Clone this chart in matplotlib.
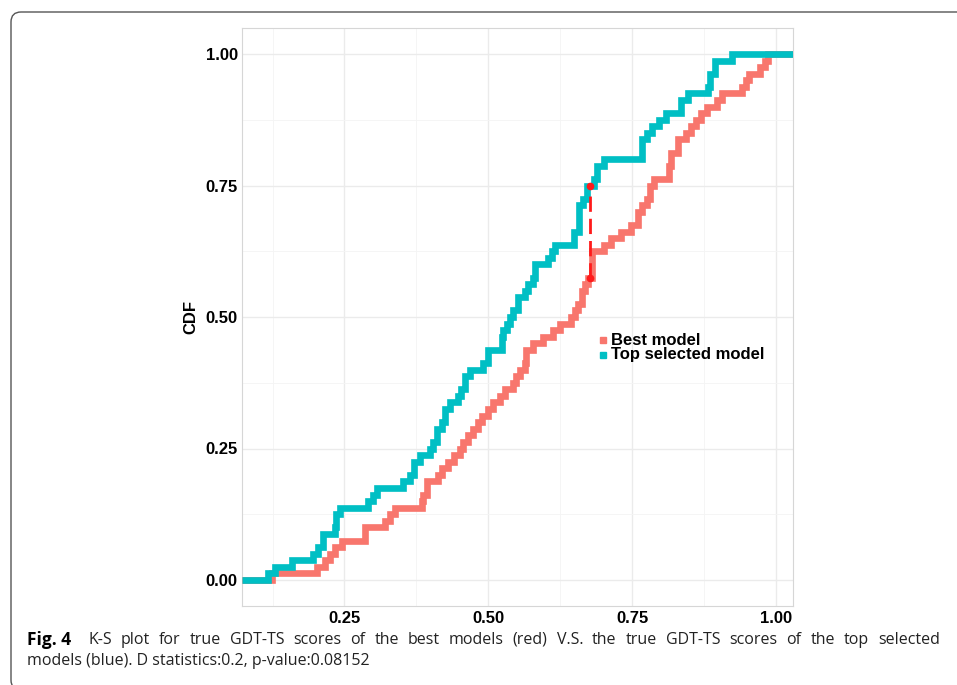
import numpy as np
import matplotlib
matplotlib.use("Agg")
import matplotlib.pyplot as plt
from matplotlib.patches import FancyBboxPatch
from matplotlib.transforms import IdentityTransform

# true GDT-TS scores
best_model = [0.124, 0.202, 0.216, 0.225, 0.234, 0.245, 0.286, 0.286, 0.320, 0.329, 0.338, 0.384, 0.387, 0.393, 0.393,
              0.413, 0.420, 0.430, 0.440, 0.450, 0.456, 0.465, 0.474, 0.482, 0.488, 0.500, 0.508, 0.520, 0.529, 0.543,
              0.548, 0.555, 0.563, 0.566, 0.566, 0.578, 0.595, 0.613, 0.624, 0.644, 0.650, 0.656, 0.662, 0.662, 0.668,
              0.673, 0.680, 0.680, 0.680, 0.680, 0.701, 0.713, 0.731, 0.748, 0.760, 0.760, 0.766, 0.775, 0.781, 0.781,
              0.787, 0.814, 0.814, 0.817, 0.817, 0.829, 0.829, 0.843, 0.852, 0.861, 0.870, 0.879, 0.897, 0.906, 0.941,
              0.947, 0.953, 0.972, 0.980, 0.985]
top_selected = [0.118, 0.129, 0.158, 0.196, 0.204, 0.213, 0.213, 0.233, 0.236, 0.236, 0.242,
                0.291, 0.300, 0.306, 0.352, 0.364, 0.370, 0.370, 0.381, 0.398, 0.404, 0.410, 0.410, 0.419, 0.424, 0.424,
                0.433, 0.447, 0.453, 0.459, 0.459, 0.468, 0.491, 0.499, 0.499, 0.523, 0.523, 0.526, 0.532, 0.537,
                0.543, 0.552, 0.552, 0.563, 0.569, 0.578, 0.581, 0.581, 0.604, 0.610, 0.615, 0.648, 0.648, 0.657, 0.657,
                0.657, 0.657, 0.665, 0.671, 0.671, 0.683, 0.689, 0.689, 0.701, 0.766, 0.766, 0.766, 0.775, 0.784,
                0.796, 0.808, 0.835, 0.835, 0.846, 0.882, 0.885, 0.885, 0.894, 0.894, 0.923]
labels = ["Best model", "Top selected model"]
colors = ["#F8766D", "#00BFC4"]
ks_x = 0.677  # where the max gap is marked
xticks = [0.25, 0.50, 0.75, 1.00]
yticks = [0.00, 0.25, 0.50, 0.75, 1.00]

caption_1 = "K-S plot for true GDT-TS scores of the best models (red) V.S. the true GDT-TS scores of the top selected"
caption_2 = "models (blue). D statistics:0.2, p-value:0.08152"

W, H = 957, 685
fig = plt.figure(figsize=(W / 100, H / 100), dpi=100)
ax = fig.add_axes([242 / W, (H - 606.3) / H, (793 - 242) / W, (606.3 - 27.7) / H])

xlo, xhi = 0.072, 1.029
ax.set_xlim(xlo, xhi)
ax.set_ylim(-0.05, 1.05)


def ecdf(vals):
    v = np.sort(np.asarray(vals))
    y = np.arange(1, len(v) + 1) / len(v)
    return v, y


for vals, c in zip([best_model, top_selected], colors):
    v, y = ecdf(vals)
    xs = np.concatenate([[xlo], v, [xhi]])
    ys = np.concatenate([[0], y, [1]])
    ax.step(xs, ys, where="post", color=c, lw=4.8, solid_joinstyle="miter", solid_capstyle="butt", zorder=3)

# K-S distance segment
lo = np.searchsorted(np.sort(best_model), ks_x, side="right") / len(best_model)
hi = np.searchsorted(np.sort(top_selected), ks_x, side="right") / len(top_selected)
ax.plot([ks_x, ks_x], [lo, hi], color="#FF1A1A", lw=2.0, ls=(0, (5.5, 2.5)), zorder=4)
ax.plot([ks_x, ks_x], [lo, hi], "o", color="#FF1A1A", ms=4.5, zorder=5)

# grid / frame
ax.set_xticks(xticks)
ax.set_xticklabels([f"{t:.2f}" for t in xticks])
ax.set_yticks(yticks)
ax.set_yticklabels([f"{t:.2f}" for t in yticks])
ax.set_xticks([0.125, 0.375, 0.625, 0.875], minor=True)
ax.set_yticks([0.125, 0.375, 0.625, 0.875], minor=True)
ax.grid(True, which="major", color="#EBEBEB", lw=1.0)
ax.grid(True, which="minor", color="#F4F4F4", lw=0.6)
ax.set_axisbelow(True)
ax.tick_params(which="both", length=0)
ax.tick_params(axis="x", pad=3.5)
ax.tick_params(axis="y", pad=3)
for lab in ax.get_xticklabels() + ax.get_yticklabels():
    lab.set_fontfamily("Liberation Sans")
    lab.set_fontweight("bold")
    lab.set_fontsize(12)
    lab.set_color("black")
for s in ax.spines.values():
    s.set_color("#D6D6D6")
    s.set_linewidth(0.8)

ax.set_ylabel("CDF", fontfamily="Liberation Sans", fontweight="bold", fontsize=12)
ax.yaxis.set_label_coords(-0.08, 0.5)

# legend drawn by hand to get the tight ggplot spacing
for i, (lab, c) in enumerate(zip(labels, colors)):
    yy = 0.460 - i * 0.025
    ax.plot([0.655], [yy], "s", color=c, ms=5, transform=ax.transAxes, clip_on=False, zorder=6)
    ax.text(0.669, yy, lab, transform=ax.transAxes, va="center", ha="left",
            fontfamily="Liberation Sans", fontweight="bold", fontsize=12, zorder=6)

# caption, first line justified like the journal layout
cap_kw = dict(fontfamily="Open Sans", fontsize=11.5, va="center", color="#222222")
fig.text(27 / W, (H - 640) / H, "Fig. 4", fontfamily="Open Sans", fontweight="bold", fontsize=12.5, va="center")
renderer = fig.canvas.get_renderer()
words = caption_1.split()
x0, x1 = 88, 940
tmp = [fig.text(0, 0, w, **cap_kw) for w in words]
widths = [t.get_window_extent(renderer).width for t in tmp]
for t in tmp:
    t.remove()
gap = (x1 - x0 - sum(widths)) / (len(words) - 1)
xpos = x0
for w, wd in zip(words, widths):
    fig.text(xpos / W, (H - 640) / H, w, **cap_kw)
    xpos += wd + gap
fig.text(27 / W, (H - 661) / H, caption_2, **cap_kw)

# rounded frame around the figure panel
frame = FancyBboxPatch((11, -5), 1100, H - 12 + 5, boxstyle="round,pad=0,rounding_size=10",
                       transform=IdentityTransform(), fill=False, ec="#555555", lw=1.0)
fig.patches.append(frame)

fig.savefig("out.png", dpi=100)
